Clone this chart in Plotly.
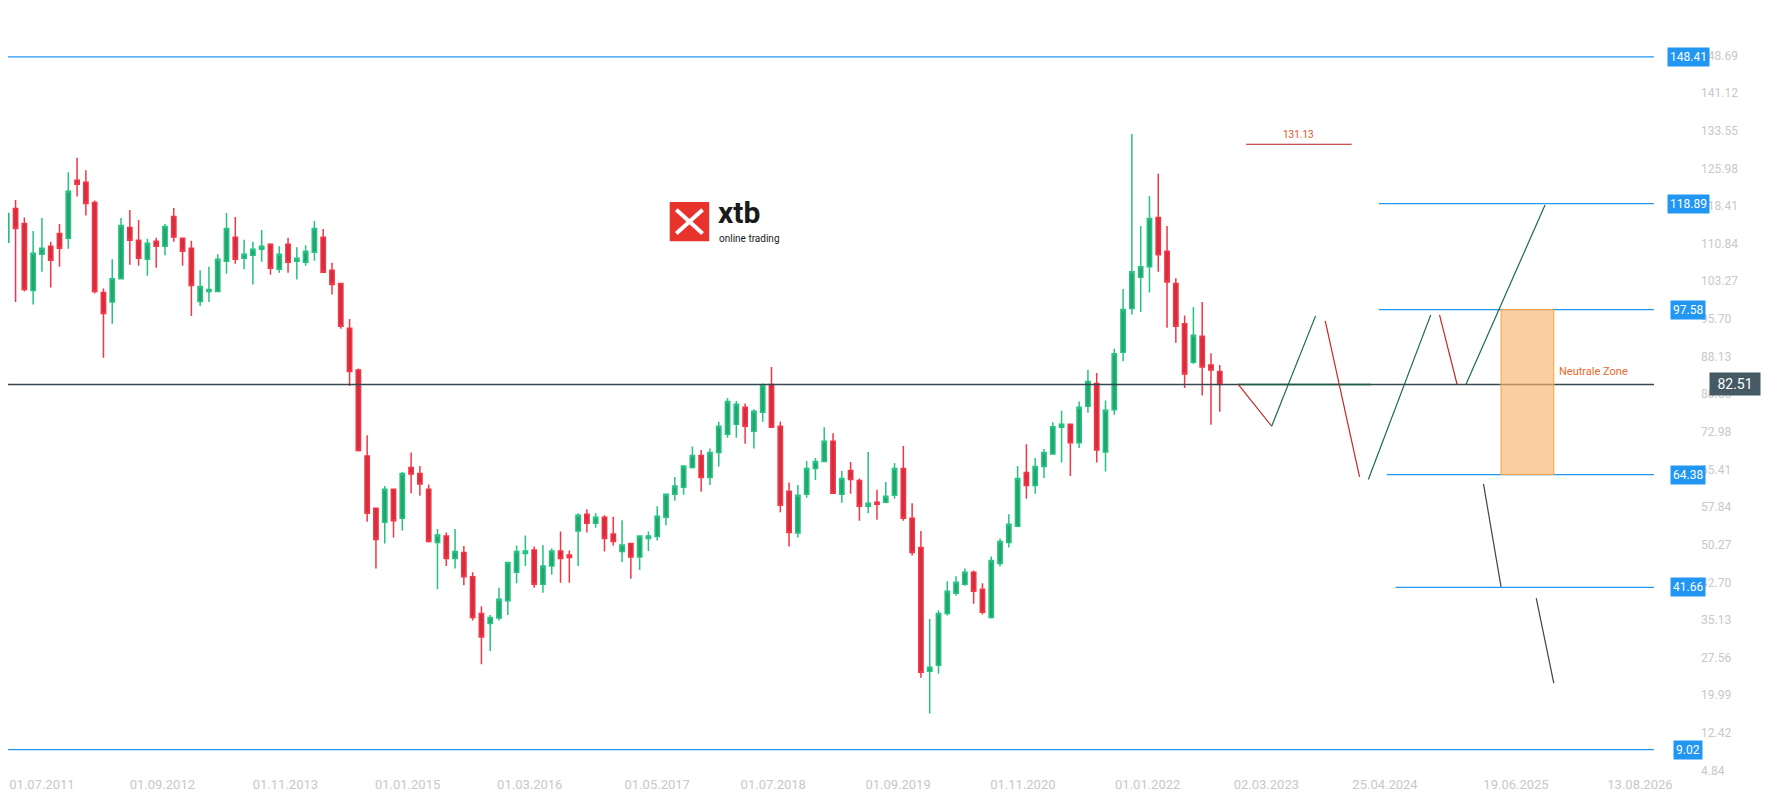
import plotly.graph_objects as go

# monthly candles (oldest first)
opens = [111.1, 117.9, 114.9, 101.4, 108.7, 110.3, 112.9, 111.9, 123.6, 123.2,
         119.1, 101.0, 99.1, 103.8, 114.1, 111.5, 107.7, 111.3, 110.3, 116.3,
         111.9, 109.9, 99.2, 101.2, 101.2, 107.3, 112.1, 107.9, 108.5, 109.7,
         110.7, 105.7, 110.7, 107.3, 107.1, 109.1, 112.1, 105.5, 102.8, 93.8,
         85.4, 68.1, 57.6, 54.8, 61.4, 55.6, 65.8, 64.6, 61.4, 50.7,
         52.0, 47.5, 48.7, 43.8, 36.4, 34.4, 35.5, 39.0, 44.7, 48.5,
         49.2, 42.3, 46.0, 49.0, 48.2, 53.0, 56.4, 54.6, 55.8, 52.4,
         48.9, 50.5, 47.8, 51.5, 51.9, 55.8, 60.4, 61.8, 65.8, 68.2,
         63.8, 68.8, 72.5, 74.5, 77.9, 73.1, 76.9, 82.5, 74.1, 61.0,
         52.6, 60.4, 65.6, 67.0, 71.1, 60.4, 65.2, 63.2, 58.0, 58.8,
         58.8, 60.2, 65.6, 55.6, 49.7, 24.8, 26.0, 36.4, 40.5, 42.3,
         44.7, 41.3, 35.6, 46.5, 50.7, 54.0, 64.8, 62.2, 66.0, 68.5,
         73.9, 74.5, 70.8, 78.1, 82.7, 68.9, 77.4, 89.0, 97.8, 104.1,
         106.2, 116.1, 109.3, 102.8, 94.7, 87.0, 92.2, 86.4, 85.1]
highs = [119.4, 119.6, 116.1, 113.4, 116.0, 111.2, 114.8, 125.2, 128.1, 125.6,
         119.5, 101.8, 107.7, 116.0, 117.6, 115.6, 111.8, 112.0, 114.8, 118.0,
         111.9, 111.4, 105.5, 106.2, 108.7, 117.0, 116.2, 111.6, 111.2, 113.6,
         110.9, 110.3, 112.0, 110.1, 110.5, 115.4, 113.8, 107.0, 102.8, 95.7,
         85.7, 72.3, 57.6, 62.1, 61.4, 64.9, 68.8, 66.1, 62.4, 53.4,
         52.7, 53.4, 50.0, 44.7, 37.9, 36.1, 41.6, 46.7, 50.1, 52.1,
         49.9, 50.2, 49.5, 52.9, 49.1, 56.6, 57.4, 56.6, 56.2, 55.9,
         55.2, 50.5, 52.0, 52.9, 58.0, 60.4, 63.9, 66.1, 70.0, 69.3,
         69.6, 75.0, 79.8, 79.2, 78.7, 77.5, 82.7, 86.0, 75.0, 62.8,
         62.3, 67.1, 67.7, 73.9, 72.7, 65.1, 66.9, 63.6, 68.9, 61.3,
         62.9, 66.7, 70.1, 58.6, 53.0, 35.3, 37.1, 42.9, 43.9, 45.5,
         45.1, 42.5, 47.9, 51.5, 56.4, 66.1, 70.5, 67.7, 69.5, 74.9,
         77.2, 74.5, 79.1, 85.4, 84.8, 79.3, 89.7, 101.7, 132.9, 114.4,
         120.4, 124.9, 114.4, 103.9, 96.4, 98.1, 99.1, 88.8, 86.4]
lows = [105.0, 99.1, 101.2, 98.6, 105.2, 102.0, 106.2, 109.8, 120.3, 116.5,
        100.8, 87.9, 94.7, 103.8, 106.6, 106.4, 104.4, 106.0, 108.5, 111.2,
        106.4, 96.3, 98.3, 99.1, 101.2, 104.8, 106.8, 105.7, 102.6, 107.2,
        104.6, 105.0, 105.0, 103.6, 106.4, 107.4, 105.1, 100.6, 93.7, 82.2,
        69.0, 54.9, 45.5, 50.5, 51.7, 53.1, 60.6, 60.1, 50.7, 41.3,
        46.0, 45.5, 42.1, 35.0, 26.2, 28.9, 35.0, 36.1, 42.5, 46.0,
        41.6, 40.6, 44.2, 42.6, 42.6, 46.0, 52.7, 53.7, 48.9, 50.1,
        46.8, 43.4, 45.2, 49.0, 51.1, 54.2, 59.1, 60.3, 65.6, 60.9,
        62.3, 66.0, 71.8, 71.8, 70.6, 69.6, 75.0, 73.9, 56.8, 49.9,
        51.7, 59.7, 63.3, 67.0, 60.6, 58.7, 60.5, 55.1, 56.6, 55.3,
        58.6, 59.5, 55.1, 48.1, 23.5, 16.3, 24.3, 36.0, 40.0, 42.0,
        38.4, 36.2, 35.4, 45.9, 49.7, 54.0, 59.5, 60.5, 63.7, 68.5,
        66.8, 64.1, 69.7, 76.8, 66.8, 65.0, 76.4, 87.2, 96.6, 97.1,
        101.0, 105.2, 93.9, 90.9, 81.8, 86.6, 80.3, 74.4, 77.0]
closes = [116.9, 113.9, 101.6, 108.9, 109.9, 107.5, 109.9, 121.4, 122.8, 118.9,
          101.2, 96.8, 103.8, 114.5, 111.5, 107.9, 110.9, 110.3, 114.3, 112.2,
          109.3, 102.4, 102.2, 101.6, 107.7, 113.9, 107.7, 108.7, 109.7, 110.3,
          105.9, 108.7, 107.1, 107.9, 109.3, 113.9, 105.1, 102.6, 94.2, 85.1,
          69.2, 56.6, 51.3, 61.4, 55.1, 64.6, 64.5, 62.5, 50.9, 52.2,
          47.5, 48.9, 43.8, 35.6, 31.7, 35.6, 39.3, 46.7, 48.9, 49.0,
          42.3, 46.0, 49.0, 47.5, 47.7, 56.2, 54.6, 55.8, 51.5, 50.9,
          50.2, 47.8, 52.0, 52.0, 56.0, 60.4, 62.1, 66.1, 68.2, 63.8,
          68.8, 74.1, 79.1, 78.5, 74.1, 77.1, 82.3, 73.9, 58.2, 52.7,
          60.2, 65.6, 67.0, 71.1, 60.6, 63.6, 63.4, 58.0, 58.6, 58.4,
          60.0, 65.6, 55.6, 48.7, 24.6, 25.6, 36.4, 40.9, 42.7, 44.7,
          40.9, 36.7, 47.1, 50.9, 54.4, 63.6, 62.2, 66.0, 68.8, 74.0,
          74.5, 70.8, 77.9, 83.1, 69.3, 77.3, 88.7, 97.6, 105.2, 106.2,
          115.9, 108.6, 103.1, 94.2, 84.6, 92.4, 86.0, 85.4, 82.51]
candle_x = list(range(len(closes)))

y_ticks = [4.84, 12.42, 19.99, 27.56, 35.13, 42.70, 50.27, 57.84, 65.41, 72.98,
           80.55, 88.13, 95.70, 103.27, 110.84, 118.41, 125.98, 133.55, 141.12, 148.69]
x_tick_pos = [4.0, 17.7, 31.7, 45.6, 59.5, 74.0, 87.2, 101.4, 115.6, 129.8,
              143.3, 156.8, 171.7, 185.8]
x_tick_text = ["01.07.2011", "01.09.2012", "01.11.2013", "01.01.2015", "01.03.2016",
               "01.05.2017", "01.07.2018", "01.09.2019", "01.11.2020", "01.01.2022",
               "02.03.2023", "25.04.2024", "19.06.2025", "13.08.2026"]

# support / resistance levels and where each line starts
levels = [148.41, 118.89, 97.58, 64.38, 41.66, 9.02]
level_start = [-1, 156.1, 156.1, 157.0, 158.0, -1]
last_price = 82.51
target_price = 131.13

# projected path segments
path_x0 = [140.1, 143.9, 150.0, 154.9, 163.0, 166.0, 168.0, 174.0]
path_y0 = [82.5, 74.1, 95.3, 63.4, 96.5, 82.5, 62.5, 39.5]
path_x1 = [143.9, 148.9, 153.9, 162.0, 165.0, 175.0, 170.0, 176.0]
path_y1 = [74.1, 96.3, 63.9, 96.5, 82.5, 118.6, 41.8, 22.4]
path_col = ["#c62828", "#1b6b4a", "#c62828", "#1b6b4a", "#c62828", "#1b6b4a",
            "#37474f", "#37474f"]

X_MIN, X_MAX = 0.14, 187.4
BLUE = "#2196f3"

fig = go.Figure()
fig.add_trace(go.Candlestick(
    x=candle_x, open=opens, high=highs, low=lows, close=closes,
    increasing=dict(fillcolor="#22a56d", line=dict(color="#26c281", width=1.5)),
    decreasing=dict(fillcolor="#d52d3d", line=dict(color="#f23645", width=1.5)),
    whiskerwidth=0, showlegend=False, hoverinfo="skip",
))

# last price line
fig.add_shape(type="line", x0=-2, x1=X_MAX, y0=last_price, y1=last_price,
              line=dict(color="#37474f", width=1.5))
fig.add_shape(type="line", x0=140.1, x1=155.2, y0=last_price, y1=last_price,
              line=dict(color="#1b5e40", width=1.5))

for lv, st in zip(levels, level_start):
    fig.add_shape(type="line", x0=st, x1=X_MAX, y0=lv, y1=lv,
                  line=dict(color=BLUE, width=1.2))
    fig.add_annotation(xref="paper", x=1.0207, xanchor="center", y=lv, text=f"{lv:.2f}",
                       showarrow=False, bgcolor=BLUE,
                       font=dict(color="white", size=12, family="Roboto"), borderpad=2)

for x0, y0, x1, y1, c in zip(path_x0, path_y0, path_x1, path_y1, path_col):
    fig.add_shape(type="line", x0=x0, y0=y0, x1=x1, y1=y1, line=dict(color=c, width=1.2))

# neutral zone
fig.add_shape(type="rect", x0=170.0, x1=176.0, y0=levels[3], y1=levels[2],
              fillcolor="rgba(247,180,110,0.65)", line=dict(color="#f5a340", width=1))
fig.add_annotation(x=180.5, y=85.1, text="Neutrale Zone", showarrow=False,
                   font=dict(color="#e8692a", size=11, family="Roboto"))

# target
fig.add_shape(type="line", x0=141.0, x1=153.0, y0=target_price - 0.3, y1=target_price - 0.3,
              line=dict(color="#b71c1c", width=1))
fig.add_annotation(x=147.0, y=target_price + 1.6, text=f"{target_price:.2f}", showarrow=False,
                   font=dict(color="#e0541a", size=10, family="Roboto"))

# last price tag
fig.add_annotation(xref="paper", x=1.049, xanchor="center", y=last_price,
                   text=f"{last_price:.2f}", showarrow=False, bgcolor="#455a64",
                   font=dict(color="white", size=14, family="Roboto"), borderpad=3, width=44)

# logo
fig.add_shape(type="rect", xref="paper", yref="paper", x0=0.402, x1=0.426, y0=0.696, y1=0.747,
              fillcolor="#e8322c", line=dict(width=0))
fig.add_shape(type="line", xref="paper", yref="paper", x0=0.406, x1=0.422, y0=0.706, y1=0.737,
              line=dict(color="white", width=4))
fig.add_shape(type="line", xref="paper", yref="paper", x0=0.406, x1=0.422, y0=0.737, y1=0.706,
              line=dict(color="white", width=4))
fig.add_annotation(xref="paper", yref="paper", x=0.430, y=0.733, xanchor="left",
                   yanchor="middle", text="<b>xtb</b>", showarrow=False,
                   font=dict(color="#1a1a1a", size=30, family="Roboto"))
fig.add_annotation(xref="paper", yref="paper", x=0.431, y=0.700, xanchor="left",
                   yanchor="middle", text="online trading", showarrow=False,
                   font=dict(color="#1a1a1a", size=10, family="Roboto"))

fig.update_layout(
    width=1769, height=794,
    margin=dict(l=0, r=123, t=0, b=27),
    paper_bgcolor="white", plot_bgcolor="white",
    showlegend=False,
    xaxis=dict(range=[X_MIN, X_MAX], rangeslider=dict(visible=False), showgrid=False,
               zeroline=False, tickmode="array", tickvals=x_tick_pos, ticktext=x_tick_text,
               tickfont=dict(color="#c8c8c8", size=13, family="Roboto"), ticks=""),
    yaxis=dict(range=[3.93, 158.25], side="right", showgrid=False, zeroline=False,
               tickmode="array", tickvals=y_ticks, ticktext=[f"{v:.2f}" for v in y_ticks],
               tickfont=dict(color="#c8c8c8", size=12, family="Roboto"), ticks="",
               ticklabelstandoff=46),
)

fig.write_html("out.html")
